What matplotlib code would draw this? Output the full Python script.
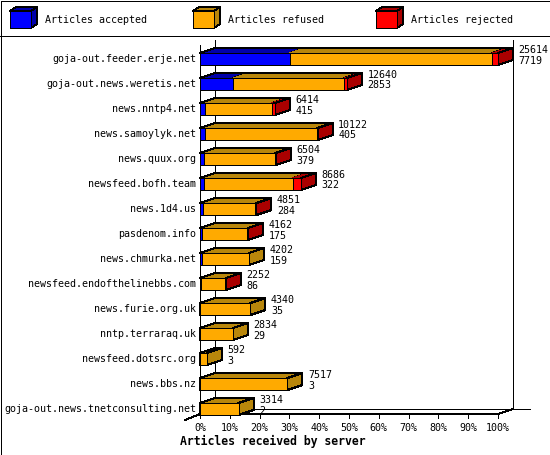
import matplotlib
matplotlib.use("Agg")
import matplotlib.pyplot as plt
from matplotlib.patches import Polygon, Rectangle

# Datos
servidores = [
    "goja-out.feeder.erje.net",
    "goja-out.news.weretis.net",
    "news.nntp4.net",
    "news.samoylyk.net",
    "news.quux.org",
    "newsfeed.bofh.team",
    "news.1d4.us",
    "pasdenom.info",
    "news.chmurka.net",
    "newsfeed.endofthelinebbs.com",
    "news.furie.org.uk",
    "nntp.terraraq.uk",
    "newsfeed.dotsrc.org",
    "news.bbs.nz",
    "goja-out.news.tnetconsulting.net",
]
totales = [25614, 12640, 6414, 10122, 6504, 8686, 4851, 4162, 4202, 2252, 4340, 2834, 592, 7517, 3314]
aceptados = [7719, 2853, 415, 405, 379, 322, 284, 175, 159, 86, 35, 29, 3, 3, 2]
rechazados = [500, 250, 250, 25, 20, 720, 60, 30, 0, 20, 0, 0, 0, 0, 0]
rehusados = [t - a - r for t, a, r in zip(totales, aceptados, rechazados)]

ticks = list(range(0, 101, 10))
leyenda = ["Articles accepted", "Articles refused", "Articles rejected"]
col_frente = ["#0000ff", "#ffaa00", "#ff0000"]
col_oscuro = ["#0000aa", "#b8860b", "#aa0000"]

# bordes nitidos como en el original
plt.rcParams["patch.antialiased"] = False
plt.rcParams["lines.antialiased"] = False

W, H = 550, 455
fig = plt.figure(figsize=(W / 100, H / 100), dpi=100)
fig.patch.set_facecolor("white")
mono = "DejaVu Sans Mono"
lw = 0.72  # 1 px
fs = 7.2

# capa de pixeles para marco y leyenda
fondo = fig.add_axes([0, 0, 1, 1])
fondo.set_xlim(0, W)
fondo.set_ylim(H, 0)
fondo.axis("off")
fondo.add_patch(Rectangle((0.5, 0.5), W - 1, H - 1, fill=False, ec="black", lw=lw))
fondo.plot([0, W], [35.5, 35.5], color="black", lw=lw)
for k, nombre in enumerate(leyenda):
    x0 = 10 + 183 * k
    fondo.add_patch(Polygon([(x0, 11), (x0 + 21, 11), (x0 + 27, 7), (x0 + 6, 7)],
                            fc=col_oscuro[k], ec="black", lw=lw))
    fondo.add_patch(Polygon([(x0 + 21, 11), (x0 + 21, 28), (x0 + 27, 24), (x0 + 27, 7)],
                            fc=col_oscuro[k], ec="black", lw=lw))
    fondo.add_patch(Rectangle((x0, 11), 21, 17, fc=col_frente[k], ec="black", lw=lw))
    fondo.text(x0 + 35, 20, nombre, family=mono, fontsize=fs, va="center", ha="left")

# ejes del grafico: x en %, y en filas
ax = fig.add_axes([200 / W, (H - 414) / H, 298 / W, (414 - 45) / H])
ax.set_xlim(0, 100)
ax.set_ylim(14.2, -0.56)
ax.axis("off")

n = len(servidores)
dx = 15 / 2.98
dy = -0.2
h = 0.24
fondo_y = n - 1 + 0.2

# paredes
ax.plot([dx, dx], [-0.76, fondo_y - 0.2], color="black", lw=lw, clip_on=False)
ax.plot([100 + dx, 100 + dx], [-0.76, fondo_y - 0.2], color="black", lw=lw, clip_on=False)
ax.plot([dx, 110.7], [fondo_y - 0.2, fondo_y - 0.2], color="black", lw=lw, clip_on=False)
ax.plot([0, 0], [-0.56, fondo_y], color="black", lw=lw, clip_on=False)
ax.plot([-dx, 0, 100, 100 + dx], [fondo_y + 0.24, fondo_y, fondo_y, fondo_y - 0.2],
        color="black", lw=lw, clip_on=False)
for t in ticks:
    ax.plot([t, t], [fondo_y, fondo_y + 0.16], color="black", lw=lw, clip_on=False)
    ax.text(t, fondo_y + 0.56, f"{t}%", family=mono, fontsize=fs,
            ha="center", va="center", clip_on=False)

maximo = max(totales)
for i in range(n):
    y = i
    partes = [aceptados[i], rehusados[i], rechazados[i]]
    acum = 0
    fin = totales[i] / maximo * 100
    for k, v in enumerate(partes):
        if v <= 0:
            continue
        x0 = acum / maximo * 100
        x1 = (acum + v) / maximo * 100
        acum += v
        ax.add_patch(Polygon([(x0, y - h), (x1, y - h), (x1 + dx, y - h + dy), (x0 + dx, y - h + dy)],
                             fc=col_oscuro[k], ec="none", clip_on=False, zorder=3))
        ax.add_patch(Polygon([(x1, y - h), (x1, y + h), (x1 + dx, y + h + dy), (x1 + dx, y - h + dy)],
                             fc=col_oscuro[k], ec="black", lw=lw, clip_on=False, zorder=3))
        ax.add_patch(Polygon([(x0, y - h), (x1, y - h), (x1, y + h), (x0, y + h)],
                             fc=col_frente[k], ec="black", lw=lw, clip_on=False, zorder=3))
    ax.plot([0, dx, fin + dx, fin], [y - h, y - h + dy, y - h + dy, y - h],
            color="black", lw=lw, clip_on=False, zorder=4)
    ax.text(-1.3, y, servidores[i], family=mono, fontsize=fs, ha="right", va="center",
            clip_on=False)
    ax.text(fin + dx + 1.85, y - 0.36, str(totales[i]), family=mono, fontsize=fs,
            ha="left", va="center", clip_on=False, zorder=5)
    ax.text(fin + dx + 1.85, y + 0.06, str(aceptados[i]), family=mono, fontsize=fs,
            ha="left", va="center", clip_on=False, zorder=5)

fondo.text(180, 441, "Articles received by server", family=mono, fontsize=8.3,
           fontweight="bold", ha="left", va="center")

fig.savefig("out.png", dpi=100)
